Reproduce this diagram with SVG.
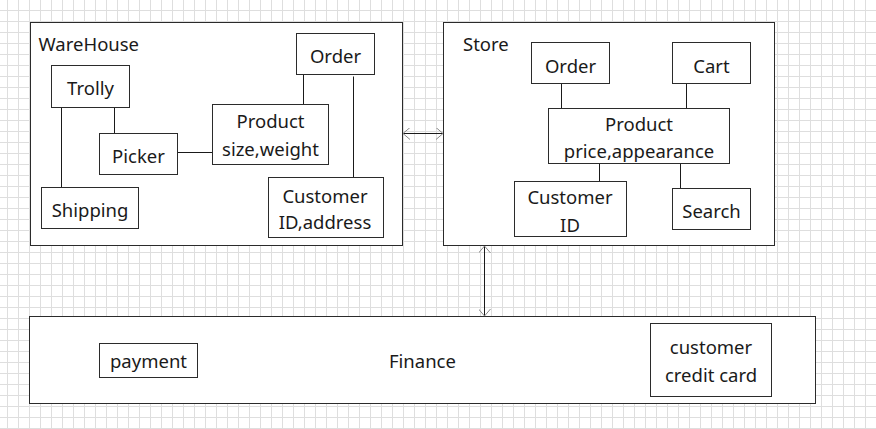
<svg xmlns="http://www.w3.org/2000/svg" width="876" height="429" viewBox="0 0 876 429">
<defs>
<pattern id="grid" width="11" height="11" x="7" y="10" patternUnits="userSpaceOnUse">
<path d="M0.5,0 V11 M0,0.5 H11" stroke="#dedede" stroke-width="1" fill="none"/>
</pattern>
<marker id="chev" viewBox="0 0 8 12" refX="7" refY="6" markerWidth="8" markerHeight="12" markerUnits="userSpaceOnUse" orient="auto-start-reverse">
<path d="M0,0 L7,6 L0,12" fill="none" stroke="#8a8a8a" stroke-width="1"/>
</marker>
</defs>
<style>
.box{fill:#fff;stroke:#2b2b2b;stroke-width:1}
.t{font-family:"Noto Sans","DejaVu Sans",sans-serif;font-size:18.5px;fill:#1a1a1a}
.c{text-anchor:middle}
.ln{stroke:#1a1a1a;stroke-width:1;fill:none}
.ar{stroke:#1a1a1a;stroke-width:1;fill:none;marker-start:url(#chev);marker-end:url(#chev)}
</style>
<rect width="876" height="429" fill="#fff"/>
<rect width="876" height="429" fill="url(#grid)"/>

<g id="warehouse">
<rect class="box" x="30.5" y="22.5" width="372" height="223"/>
<text class="t" x="38.5" y="50.5">WareHouse</text>
</g>
<g id="store">
<rect class="box" x="443.5" y="22.5" width="331" height="223"/>
<text class="t" x="463" y="51">Store</text>
</g>
<g id="finance">
<rect class="box" x="29.5" y="316.5" width="786" height="87"/>
<text class="t" x="389" y="367.5">Finance</text>
</g>

<g id="connectors">
<path class="ln" d="M61.5,107.5 V187.5"/>
<path class="ln" d="M114.5,107.5 V133.5"/>
<path class="ln" d="M177.5,152.5 H212.5"/>
<path class="ln" d="M303.5,74.5 V104.5"/>
<path class="ln" d="M353.5,76.5 V177.5"/>
<path class="ln" d="M561.5,83.5 V108.5"/>
<path class="ln" d="M686.5,83.5 V108.5"/>
<path class="ln" d="M599.5,163.5 V181.5"/>
<path class="ln" d="M680.5,163.5 V188.5"/>
<path class="ar" d="M403,133.5 H443"/>
<path class="ar" d="M484.5,246 V316"/>
</g>

<g id="trolly">
<rect class="box" x="51.5" y="65.5" width="78" height="42"/>
<text class="t c" x="90.5" y="94.5">Trolly</text>
</g>
<g id="picker">
<rect class="box" x="99.5" y="133.5" width="78" height="41"/>
<text class="t c" x="138.5" y="162.5">Picker</text>
</g>
<g id="shipping">
<rect class="box" x="41.5" y="187.5" width="97" height="41"/>
<text class="t c" x="90" y="216.5">Shipping</text>
</g>
<g id="wh-product">
<rect class="box" x="212.5" y="104.5" width="116" height="60"/>
<text class="t c" x="270.5" y="127.5">Product</text>
<text class="t c" x="270.5" y="155.5">size,weight</text>
</g>
<g id="wh-order">
<rect class="box" x="296.5" y="33.5" width="78" height="41"/>
<text class="t c" x="335.5" y="62.5">Order</text>
</g>
<g id="wh-customer">
<rect class="box" x="268.5" y="177.5" width="115" height="60"/>
<text class="t c" x="325" y="202.5">Customer</text>
<text class="t c" x="325" y="229">ID,address</text>
</g>

<g id="store-order">
<rect class="box" x="531.5" y="42.5" width="78" height="41"/>
<text class="t c" x="570.5" y="72.5">Order</text>
</g>
<g id="store-cart">
<rect class="box" x="672.5" y="42.5" width="78" height="41"/>
<text class="t c" x="711.5" y="72.5">Cart</text>
</g>
<g id="store-product">
<rect class="box" x="548.5" y="108.5" width="181" height="55"/>
<text class="t c" x="639" y="130.5">Product</text>
<text class="t c" x="639" y="157.5">price,appearance</text>
</g>
<g id="store-customer">
<rect class="box" x="514.5" y="181.5" width="112" height="55"/>
<text class="t c" x="570" y="203.5">Customer</text>
<text class="t c" x="570" y="231.5">ID</text>
</g>
<g id="store-search">
<rect class="box" x="672.5" y="188.5" width="78" height="41"/>
<text class="t c" x="711.5" y="217.5">Search</text>
</g>

<g id="payment">
<rect class="box" x="99.5" y="343.5" width="98" height="34"/>
<text class="t c" x="148.5" y="367.5">payment</text>
</g>
<g id="credit-card">
<rect class="box" x="650.5" y="323.5" width="121" height="73"/>
<text class="t c" x="711" y="353.5">customer</text>
<text class="t c" x="711" y="382">credit card</text>
</g>
</svg>
